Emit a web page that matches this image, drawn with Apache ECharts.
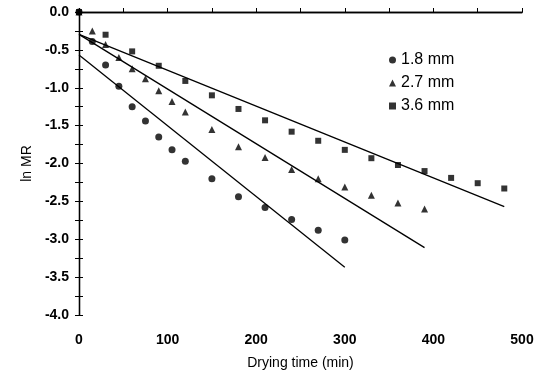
<!DOCTYPE html>
<html>
<head>
<meta charset="utf-8">
<script src="https://cdn.jsdelivr.net/npm/echarts@6/dist/echarts.min.js"></script>
<style>
html,body{margin:0;padding:0;background:#fff;}
#c{width:552px;height:378px;}
</style>
</head>
<body>
<div id="c"></div>
<script>
// Drying time (min) and ln MR for each thickness
var t18 = [0, 15, 30, 45, 60, 75, 90, 105, 120, 150, 180, 210, 240, 270, 300];
var v18 = [0, -0.39, -0.70, -0.98, -1.25, -1.44, -1.65, -1.82, -1.97, -2.20, -2.44, -2.58, -2.74, -2.88, -3.01];

var t27 = [0, 15, 30, 45, 60, 75, 90, 105, 120, 150, 180, 210, 240, 270, 300, 330, 360, 390];
var v27 = [0, -0.25, -0.43, -0.60, -0.75, -0.88, -1.04, -1.18, -1.32, -1.55, -1.78, -1.92, -2.08, -2.20, -2.31, -2.42, -2.52, -2.60];

var t36 = [0, 30, 60, 90, 120, 150, 180, 210, 240, 270, 300, 330, 360, 390, 420, 450, 480];
var v36 = [0, -0.30, -0.52, -0.71, -0.91, -1.10, -1.28, -1.43, -1.58, -1.70, -1.82, -1.93, -2.02, -2.10, -2.19, -2.26, -2.33];

// fitted straight lines (endpoints)
var fit18 = [[0, -0.567], [300, -3.37]];
var fit27 = [[0, -0.295], [390, -3.11]];
var fit36 = [[0, -0.295], [480, -2.57]];

var names = ['1.8 mm', '2.7 mm', '3.6 mm'];
var xTicks = [0, 100, 200, 300, 400, 500];
var yTicks = [0.0, -0.5, -1.0, -1.5, -2.0, -2.5, -3.0, -3.5, -4.0];

function pairs(t, v) { return t.map(function (x, i) { return [x, v[i]]; }); }

var FONT = '"Liberation Sans", Arial, Helvetica, sans-serif';
var chart = echarts.init(document.getElementById('c'), null, {renderer: 'canvas'});

var lineStyle = {color: '#000', width: 1.3};
var lineBase = {type: 'line', symbol: 'none', silent: true, lineStyle: lineStyle, itemStyle: {color: '#000'}, z: 2};

chart.setOption({
  animation: false,
  backgroundColor: '#fff',
  grid: {left: 79, right: 30, top: 12, bottom: 63, containLabel: false},
  legend: {
    data: names,
    orient: 'vertical',
    left: 384,
    top: 47,
    itemWidth: 7,
    itemHeight: 7,
    itemGap: 7,
    textStyle: {fontFamily: FONT, fontSize: 16, color: '#000', lineHeight: 16},
    selectedMode: false
  },
  xAxis: [{
    type: 'value', min: 0, max: 500, interval: 100,
    name: 'Drying time (min)', nameLocation: 'middle', nameGap: 41,
    nameTextStyle: {fontFamily: FONT, fontSize: 14, color: '#000'},
    axisLine: {lineStyle: {color: '#000', width: 1.3}},
    axisTick: {inside: true, length: 4, lineStyle: {color: '#000'}},
    minorTick: {show: true, splitNumber: 2, length: 4, lineStyle: {color: '#000'}},
    axisLabel: {fontFamily: FONT, fontSize: 14, fontWeight: 'bold', color: '#000', margin: 18,
      formatter: function (v) { return xTicks.indexOf(v) >= 0 ? String(v) : ''; }},
    splitLine: {show: false}
  }, {
    type: 'value', min: 0, max: 500, interval: 100, position: 'top',
    axisLine: {show: true, lineStyle: {color: '#000', width: 1.3}},
    axisTick: {show: false}, axisLabel: {show: false}, splitLine: {show: false}
  }],
  yAxis: [{
    type: 'value', min: -4, max: 0, interval: 0.5,
    name: 'ln MR', nameLocation: 'middle', nameGap: 42, nameRotate: 90,
    nameTextStyle: {fontFamily: FONT, fontSize: 14, color: '#000'},
    axisLine: {show: true, lineStyle: {color: '#000', width: 1.3}},
    axisTick: {inside: true, length: 4, lineStyle: {color: '#000'}},
    minorTick: {show: true, splitNumber: 2, length: 4, lineStyle: {color: '#000'}},
    axisLabel: {fontFamily: FONT, fontSize: 14, fontWeight: 'bold', color: '#000', margin: 10,
      formatter: function (v) { return v.toFixed(1); }},
    splitLine: {show: false}
  }, {
    type: 'value', min: -4, max: 0, interval: 0.5, position: 'right',
    axisLine: {show: true, lineStyle: {color: '#000', width: 1.3}},
    axisTick: {inside: true, length: 4, lineStyle: {color: '#000'}},
    minorTick: {show: true, splitNumber: 2, length: 4, lineStyle: {color: '#000'}},
    axisLabel: {show: false}, splitLine: {show: false}
  }],
  series: [
    Object.assign({name: 'fit 3.6', data: fit36}, lineBase),
    Object.assign({name: 'fit 2.7', data: fit27}, lineBase),
    Object.assign({name: 'fit 1.8', data: fit18}, lineBase),
    {name: '3.6 mm', type: 'scatter', symbol: 'rect', symbolSize: 6, data: pairs(t36, v36), itemStyle: {color: '#000'}, z: 3},
    {name: '2.7 mm', type: 'scatter', symbol: 'triangle', symbolSize: 7, data: pairs(t27, v27), itemStyle: {color: '#000'}, z: 3},
    {name: '1.8 mm', type: 'scatter', symbol: 'circle', symbolSize: 7, data: pairs(t18, v18), itemStyle: {color: '#000'}, z: 4}
  ]
});
</script>
</body>
</html>
